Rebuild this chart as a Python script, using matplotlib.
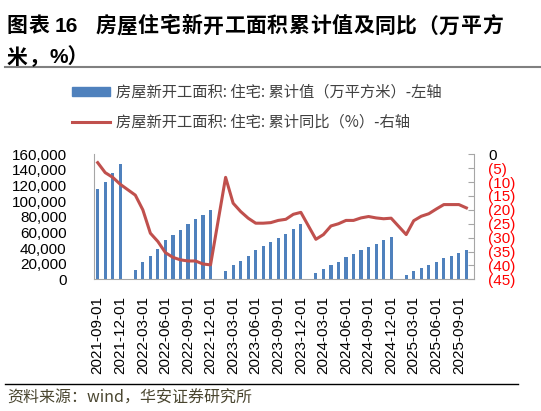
import matplotlib
matplotlib.use("Agg")
import matplotlib.pyplot as plt
import numpy as np
import pandas as pd
from matplotlib.patches import Patch
from matplotlib.lines import Line2D

plt.rcParams['font.family'] = ['Liberation Sans', 'Noto Sans CJK SC', 'DejaVu Sans']

# monthly positions 2021-09 .. 2025-10, January has no data (Jan-Feb combined)
months = pd.date_range("2021-09-01", "2025-10-01", freq="MS")

# cumulative residential new starts (10k sqm), Feb..Dec per year
cum_2021 = [115000, 125000, 136000, 147000]
cum_2022 = [11900, 22600, 29800, 38800, 50300, 56700, 63100, 70800, 76800, 82700, 88500]
cum_2023 = [10600, 18300, 23400, 29800, 37000, 42500, 47700, 53000, 58300, 64700, 70200]
cum_2024 = [7700, 13600, 17900, 22100, 28500, 32300, 37000, 41700, 45100, 50200, 54500]
cum_2025 = [5500, 10200, 14000, 17900, 22600, 26800, 30200, 34000, 37000]

# cumulative yoy (%)
yoy_2021 = [-3.0, -6.6, -8.3, -10.8]
yoy_2022 = [-14.7, -20.0, -28.4, -31.4, -35.4, -37.1, -38.0, -38.4, -38.4, -39.5, -39.8]
yoy_2023 = [-8.3, -17.6, -20.6, -23.0, -24.8, -24.8, -24.6, -23.8, -23.4, -21.6, -20.9]
yoy_2024 = [-30.6, -28.9, -25.8, -25.0, -23.8, -23.8, -22.9, -22.4, -22.9, -23.2, -23.0]
yoy_2025 = [-28.9, -23.9, -22.3, -21.4, -19.7, -18.1, -18.1, -18.1, -19.3]

nan = [np.nan]
cum = cum_2021 + nan + cum_2022 + nan + cum_2023 + nan + cum_2024 + nan + cum_2025
yoy = yoy_2021 + nan + yoy_2022 + nan + yoy_2023 + nan + yoy_2024 + nan + yoy_2025
cum = np.array(cum, dtype=float)
yoy = np.array(yoy, dtype=float)

labels_bar = "房屋新开工面积: 住宅: 累计值（万平方米）-左轴"
labels_line = "房屋新开工面积: 住宅: 累计同比（%）-右轴"

BLUE = "#4F81BD"
RED = "#C0504D"
GRAY = "#A6A6A6"

W, H = 541, 411
fig = plt.figure(figsize=(5.41, 4.11), dpi=100)
ax = fig.add_axes([94.3 / W, 1 - 279.3 / H, (474.3 - 94.3) / W, (279.3 - 154.3) / H])
x = np.arange(len(months))

ax.bar(x, cum, width=0.42, color=BLUE, zorder=2)
ax.set_ylim(0, 160000)
ax.set_yticks(np.arange(0, 160001, 20000))
ax.set_yticklabels([f"{v:,}" for v in range(0, 160001, 20000)], fontsize=11)
ax.tick_params(axis='y', length=0, pad=20)
ax.set_xlim(-0.45, 50.05)

tick_idx = list(range(0, len(months), 3))
ax.set_xticks(tick_idx)
ax.set_xticklabels([months[i].strftime("%Y-%m-%d") for i in tick_idx], rotation=90, fontsize=11)
ax.tick_params(axis='x', length=0, pad=12)

for s in ["top", "right"]:
    ax.spines[s].set_visible(False)
ax.spines["left"].set_color(GRAY)
ax.spines["bottom"].set_color(GRAY)

ax2 = ax.twinx()
mask = ~np.isnan(yoy)
ax2.plot(x[mask], yoy[mask], color=RED, lw=2.2, zorder=3)
ax2.set_ylim(-45, 0)
rt = np.arange(-45, 1, 5)
ax2.set_yticks(rt)
ax2.set_yticklabels(["0" if v == 0 else f"({-v})" for v in rt], fontsize=11)
for t, v in zip(ax2.get_yticklabels(), rt):
    t.set_color("black" if v == 0 else "red")
ax2.tick_params(axis='y', direction='in', length=4, color=GRAY, pad=10)
for s in ["top", "left", "bottom"]:
    ax2.spines[s].set_visible(False)
ax2.spines["right"].set_color(GRAY)
ax2.set_xlim(ax.get_xlim())

# legend
handles = [Patch(facecolor=BLUE, edgecolor=BLUE), Line2D([], [], color=RED, lw=2.2)]
leg = fig.legend(handles, [labels_bar, labels_line], loc="upper left",
                 bbox_to_anchor=(72 / W, 1 - 84 / H), frameon=False,
                 borderpad=0, borderaxespad=0, handlelength=2.5, handleheight=0.5,
                 handletextpad=0.35, labelspacing=0.85,
                 prop={'family': ['Noto Sans CJK SC'], 'size': 11})
for t in leg.get_texts():
    t.set_color("#404040")

# title, characters spaced out as in the report
def put_chars(s, x0, y, step):
    for i, ch in enumerate(s):
        fig.text((x0 + i * step) / W, 1 - y / H, ch, fontsize=15, fontweight="bold",
                 family=['Noto Sans CJK SC'], va="center", ha="left")

put_chars("图表", 7, 26, 21.5)
fig.text(55 / W, 1 - 26 / H, "16", fontsize=15, fontweight="bold",
         family=['Liberation Sans'], va="center", ha="left")
put_chars("房屋住宅新开工面积累计值及同比（万平方", 95, 26, 21.5)
put_chars("米，", 7, 57, 21.5)
fig.text(50 / W, 1 - 57 / H, "%）", fontsize=15, fontweight="bold",
         family=['Liberation Sans', 'Noto Sans CJK SC'], va="center", ha="left")
fig.add_artist(Line2D([5 / W, 1], [1 - 67 / H] * 2, color="#808080", lw=1.5))

# source
fig.add_artist(Line2D([5 / W, 518 / W], [1 - 384 / H] * 2, color="black", lw=1))
fig.text(7 / W, 1 - 398 / H, "资料来源：wind，华安证券研究所", fontsize=11.5,
         family=['Noto Sans CJK SC'], color="#4A4630", va="center", ha="left")

fig.savefig("out.png", dpi=100)
